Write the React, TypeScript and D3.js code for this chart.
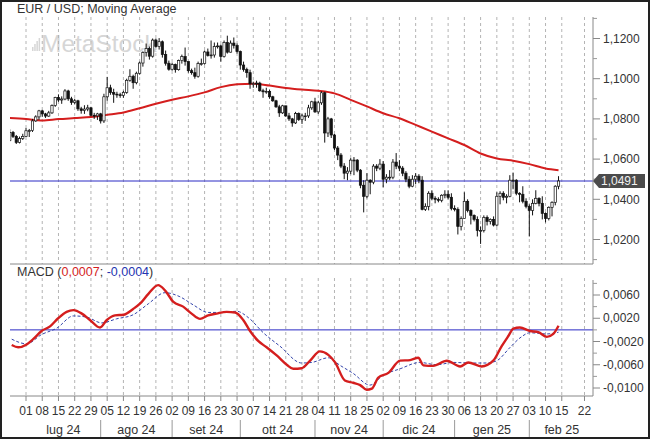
import * as d3 from "d3";

// trading-day index: 0 = Mon 01 Jul 2024, one step per weekday
const firstDay = -5; // Mon 24 Jun 2024
const firstOpen = 1.0692;

const closes = [
  1.0733, 1.0713, 1.0683, 1.0702, 1.0713,
  1.0741, 1.0742, 1.079, 1.081, 1.084,
  1.0825, 1.0814, 1.083, 1.0867, 1.0907,
  1.0894, 1.0899, 1.0939, 1.09, 1.0882,
  1.089, 1.085, 1.0842, 1.0849, 1.0855,
  1.0818, 1.0815, 1.0825, 1.079, 1.091,
  1.0955, 1.0931, 1.0923, 1.092, 1.0917,
  1.0932, 1.0992, 1.1012, 1.098, 1.1027,
  1.1078, 1.113, 1.115, 1.1112, 1.1192,
  1.116, 1.1184, 1.112, 1.1077, 1.1047,
  1.107, 1.1045, 1.109, 1.111, 1.1085,
  1.104, 1.103, 1.1012, 1.1075, 1.1075,
  1.1133, 1.1115, 1.1118, 1.116, 1.1163,
  1.111, 1.118, 1.1132, 1.1177, 1.1165,
  1.1135, 1.1068, 1.1046, 1.103, 1.0975,
  1.0975, 1.0978, 1.094, 1.0935, 1.0937,
  1.091, 1.089, 1.086, 1.083, 1.0865,
  1.0815, 1.08, 1.078, 1.0827, 1.0797,
  1.0815, 1.0815, 1.0855, 1.0885, 1.0835,
  1.088, 1.093, 1.073, 1.08, 1.072,
  1.0655, 1.062, 1.0565, 1.053, 1.054,
  1.0595, 1.0595, 1.0545, 1.047, 1.0415,
  1.0495, 1.0485, 1.0565, 1.0555, 1.0575,
  1.05, 1.051, 1.051, 1.0585, 1.0565,
  1.0555, 1.053, 1.05, 1.0465, 1.05,
  1.0515, 1.0495, 1.035, 1.0365, 1.043,
  1.0405, 1.04, 1.0395, 1.042, 1.0425,
  1.041, 1.0355, 1.035, 1.0265, 1.0305,
  1.039, 1.0345, 1.032, 1.03, 1.0245,
  1.0245, 1.031, 1.029, 1.03, 1.0272,
  1.0415, 1.043, 1.041, 1.0415, 1.0495,
  1.0495, 1.043, 1.0425, 1.039, 1.0365,
  1.0345, 1.038, 1.0405, 1.038, 1.033,
  1.0305, 1.036, 1.0385, 1.0465, 1.0491,
];

const highs = [
  1.0748, 1.074, 1.072, 1.0712, 1.0726,
  1.0755, 1.075, 1.08, 1.0818, 1.0845,
  1.0845, 1.083, 1.084, 1.0872, 1.091,
  1.0922, 1.0912, 1.0948, 1.0945, 1.091,
  1.09, 1.0895, 1.086, 1.0868, 1.087,
  1.086, 1.083, 1.083, 1.083, 1.0925,
  1.1009, 1.097, 1.095, 1.0935, 1.093,
  1.094, 1.1, 1.1047, 1.102, 1.1035,
  1.1085, 1.1136, 1.1175, 1.116, 1.12,
  1.12, 1.1202, 1.119, 1.114, 1.109,
  1.108, 1.1075, 1.1095, 1.112, 1.1155,
  1.1085, 1.105, 1.1055, 1.1085, 1.11,
  1.114, 1.115, 1.119, 1.118, 1.118,
  1.117, 1.119, 1.1214, 1.119, 1.1205,
  1.1175, 1.114, 1.1085, 1.1055, 1.1045,
  1.0985, 1.099, 1.0985, 1.095, 1.0955,
  1.0945, 1.0915, 1.0895, 1.087, 1.087,
  1.0865, 1.083, 1.0805, 1.0835, 1.0832,
  1.0825, 1.083, 1.087, 1.089, 1.0905,
  1.089, 1.0937, 1.0935, 1.081, 1.0805,
  1.0725, 1.0665, 1.063, 1.058, 1.056,
  1.0605, 1.061, 1.06, 1.055, 1.0495,
  1.053, 1.05, 1.0575, 1.0575, 1.06,
  1.059, 1.0525, 1.0545, 1.06, 1.063,
  1.0595, 1.0565, 1.054, 1.0515, 1.052,
  1.053, 1.0525, 1.0515, 1.038, 1.044,
  1.0445, 1.0415, 1.041, 1.0425, 1.0445,
  1.0445, 1.043, 1.037, 1.036, 1.0315,
  1.0435, 1.04, 1.035, 1.0325, 1.0315,
  1.0265, 1.032, 1.032, 1.0305, 1.0315,
  1.0435, 1.044, 1.044, 1.0425, 1.052,
  1.0533, 1.05, 1.0435, 1.0465, 1.0405,
  1.0375, 1.04, 1.0445, 1.041, 1.0415,
  1.0335, 1.0365, 1.039, 1.047, 1.0515,
];

const lows = [
  1.0688, 1.0705, 1.0675, 1.0678, 1.0695,
  1.071, 1.071, 1.0735, 1.0785, 1.0795,
  1.081, 1.0805, 1.081, 1.0825, 1.086,
  1.0885, 1.0875, 1.0893, 1.089, 1.087,
  1.0872, 1.084, 1.0826, 1.0825, 1.0838,
  1.0813, 1.08, 1.0795, 1.0777, 1.078,
  1.089, 1.092, 1.088, 1.0905, 1.0905,
  1.0905, 1.0925, 1.0985, 1.095, 1.0972,
  1.102, 1.106, 1.111, 1.1095, 1.1105,
  1.1155, 1.1145, 1.1105, 1.1065, 1.104,
  1.104, 1.103, 1.104, 1.1075, 1.1065,
  1.103, 1.102, 1.1, 1.1005, 1.1065,
  1.107, 1.111, 1.11, 1.1105, 1.115,
  1.1085, 1.1105, 1.1125, 1.113, 1.115,
  1.1125, 1.1045, 1.1035, 1.1005, 1.095,
  1.0955, 1.0955, 1.0935, 1.0905, 1.0925,
  1.09, 1.0885, 1.0855, 1.081, 1.0825,
  1.081, 1.079, 1.0761, 1.0775, 1.079,
  1.0775, 1.079, 1.0805, 1.0845, 1.083,
  1.0825, 1.087, 1.0682, 1.071, 1.0705,
  1.0645, 1.0595, 1.0555, 1.05, 1.0495,
  1.0525, 1.052, 1.0535, 1.0455, 1.0335,
  1.0405, 1.0425, 1.0475, 1.054, 1.0545,
  1.046, 1.048, 1.0495, 1.05, 1.055,
  1.054, 1.0515, 1.0485, 1.0455, 1.046,
  1.0475, 1.048, 1.0345, 1.0342, 1.0345,
  1.0395, 1.038, 1.0385, 1.0385, 1.0405,
  1.04, 1.0345, 1.034, 1.0225, 1.0245,
  1.0305, 1.0335, 1.0275, 1.029, 1.0215,
  1.0178, 1.0235, 1.027, 1.0275, 1.0265,
  1.0265, 1.0375, 1.0395, 1.038, 1.041,
  1.045, 1.042, 1.0385, 1.038, 1.0355,
  1.0215, 1.032, 1.0375, 1.0365, 1.03,
  1.0285, 1.0295, 1.0315, 1.037, 1.045,
];

const maDays = [-5, 0, 5, 10, 15, 20, 25, 30, 35, 40, 45, 50, 55, 60, 65, 70, 75, 80, 85, 90, 95, 100, 105, 110, 115, 120, 125, 130, 135, 140, 145, 150, 155, 160, 164];
const maValues = [
  1.0804, 1.0799, 1.0792, 1.0799, 1.0804, 1.0809, 1.082, 1.0832, 1.0853, 1.0875,
  1.0895, 1.0912, 1.0932, 1.0958, 1.0972, 1.0975, 1.0966, 1.0954, 1.0946, 1.094,
  1.0927, 1.0895, 1.0862, 1.0828, 1.0803, 1.077, 1.0737, 1.0703, 1.067, 1.0628,
  1.0603, 1.0592, 1.0575, 1.0553, 1.0545,
];

const macdDays = [
  -4.4, -2.4, 0.2, 2.2, 4.8, 7.4, 9.9, 12.5, 14.6, 17.2, 19.7, 22.8, 24.9, 27.4, 30,
  33, 35.1, 37.7, 40.7, 42.8, 45.4, 48.4, 51, 53.6, 56.1, 58.7, 61.8, 64.4, 66.9, 69,
  71.5, 74.1, 77.2, 80.3, 82.3, 84.9, 87.5, 90.5, 93.1, 95.2, 98.2, 100.8, 102.9, 104.9,
  106.5, 108.5, 111.6, 115.2, 118.3, 120.8, 122.4, 125.4, 129.6, 133.7, 136.2, 140.3,
  143.9, 146.5, 148.5, 150.1, 152.1, 155.2, 157.8, 160.4, 162.4, 164,
];
const macdValues = [
  -0.0026, -0.003, -0.0025, -0.0016, -0.0002, 0.0006, 0.002, 0.0031, 0.0034, 0.0028,
  0.0017, 0.0004, 0.0017, 0.0025, 0.0026, 0.0036, 0.0045, 0.0062, 0.0077, 0.0068,
  0.0048, 0.004, 0.0028, 0.0019, 0.0025, 0.0028, 0.0031, 0.003, 0.0017, -0.0002,
  -0.0019, -0.003, -0.0044, -0.006, -0.0067, -0.0066, -0.0053, -0.0037, -0.0043, -0.0056,
  -0.0087, -0.0091, -0.0095, -0.0103, -0.0101, -0.0082, -0.0074, -0.0053, -0.0052, -0.0048,
  -0.0061, -0.0062, -0.0053, -0.0063, -0.0056, -0.0063, -0.0053, -0.0028, -0.0011, 0.0002,
  0.0004, -0.0002, -0.0004, -0.0012, -0.0007, 0.0007,
];

const signalDays = [
  -4.4, 0.2, 4.8, 9.5, 14.6, 18.7, 23.3, 27.9, 33, 37.7, 42.8, 47.4, 51.5, 56.1, 60.3,
  64.9, 68.5, 73.1, 78.2, 84.9, 88, 93.1, 96.7, 100.8, 105.9, 110, 115.2, 121.3, 126.5,
  131.6, 136.7, 141.9, 145, 149.1, 152.1, 155.2, 160.4, 164,
];
const signalValues = [
  -0.0016, -0.0024, -0.0008, 0.0003, 0.0024, 0.0022, 0.0012, 0.0019, 0.0026, 0.0045,
  0.0064, 0.0057, 0.0043, 0.003, 0.003, 0.0032, 0.0021, -0.0005, -0.0028, -0.0057,
  -0.0056, -0.0048, -0.0061, -0.0075, -0.0095, -0.0078, -0.0067, -0.0056, -0.006,
  -0.0056, -0.0057, -0.0057, -0.0053, -0.003, -0.0014, -0.0005, -0.0007, -0.0004,
];

const lastPrice = 1.0491;
const macdLast = "0,0007";
const signalLast = "-0,0004";

const priceTicks = [1.12, 1.1, 1.08, 1.06, 1.04, 1.02];
const priceMinor = [1.13, 1.11, 1.09, 1.07, 1.05, 1.03, 1.01];
const macdTicks = [0.006, 0.002, -0.002, -0.006, -0.01];
const macdMinor = [0.008, 0.004, 0, -0.004, -0.008];

const weekLabels = [
  "01", "08", "15", "22", "29", "05", "12", "19", "26", "02", "09", "16", "23", "30",
  "07", "14", "21", "28", "04", "11", "18", "25", "02", "09", "16", "23", "30",
  "06", "13", "20", "27", "03", "10", "15", "22",
];
const weekDays = [
  0, 5, 10, 15, 20, 25, 30, 35, 40, 45, 50, 55, 60, 65, 70, 75, 80, 85, 90, 95, 100,
  105, 110, 115, 120, 125, 130, 135, 140, 145, 150, 155, 160, 165, 172,
];
const months = ["lug 24", "ago 24", "set 24", "ott 24", "nov 24", "dic 24", "gen 25", "feb 25"];
const monthStartDays = [0, 23, 45, 66, 89, 110, 132, 155, 175];

const FONT = "'Liberation Sans', Arial, sans-serif";
const fmt = (v: number) => v.toFixed(4).replace(".", ",");

export default function App() {
  const width = 650;
  const height = 439;
  const left = 10;
  const right = 593;
  const priceTop = 17;
  const priceBottom = 264;
  const macdTop = 268;
  const macdBottom = 396;

  const x = d3.scaleLinear().domain([0, 155]).range([26, 529.3]);
  const y = d3.scaleLinear().domain([1.02, 1.12]).range([239.5, 38.5]);
  const ym = d3.scaleLinear().domain([-0.01, 0.006]).range([388, 295]);
  const bw = 2.3;

  const candles = closes.map((c, i) => {
    const o = i === 0 ? firstOpen : closes[i - 1];
    return {
      day: firstDay + i,
      o,
      c,
      h: Math.max(highs[i], o, c),
      l: Math.min(lows[i], o, c),
    };
  });

  const maLine = d3
    .line<number>()
    .x((d) => x(d))
    .y((_, i) => y(maValues[i]))
    .curve(d3.curveMonotoneX)(maDays);
  const macdLine = d3
    .line<number>()
    .x((d) => x(d))
    .y((_, i) => ym(macdValues[i]))
    .curve(d3.curveMonotoneX)(macdDays);
  const signalLine = d3
    .line<number>()
    .x((d) => x(d))
    .y((_, i) => ym(signalValues[i]))
    .curve(d3.curveMonotoneX)(signalDays);

  const yLast = y(lastPrice);

  return (
    <svg
      width={width}
      height={height}
      style={{ position: "absolute", left: 0, top: 0, background: "#fff" }}
      fontFamily={FONT}
    >
      <defs>
        <clipPath id="priceClip">
          <rect x={left} y={priceTop} width={right - left} height={priceBottom - priceTop} />
        </clipPath>
      </defs>

      {/* watermark */}
      <g fill="#d6d6d6">
        {[0, 1, 2, 3].map((k) => (
          <rect key={k} x={32 + k * 2.2} y={51 - (4 + k * 3)} width={1.5} height={4 + k * 3} />
        ))}
        <text x={41} y={52} fontSize={24.5} fill="#d6d6d6">
          MetaStock
        </text>
      </g>

      <text x={17} y={13} fontSize={12.5} fill="#333">
        EUR / USD; Moving Average
      </text>

      {/* vertical week gridlines */}
      <g stroke="#b4b4b4" strokeDasharray="3,3" strokeWidth={1}>
        {weekDays.map((d, i) => (
          <g key={i}>
            <line x1={x(d)} x2={x(d)} y1={priceTop} y2={priceBottom} />
            <line x1={x(d)} x2={x(d)} y1={macdTop + 10} y2={macdBottom} />
          </g>
        ))}
      </g>

      {/* price panel */}
      <g clipPath="url(#priceClip)">
        <path d={maLine ?? ""} fill="none" stroke="#d41e1e" strokeWidth={2} />
        <line x1={left} x2={right} y1={yLast} y2={yLast} stroke="#2a2ac4" strokeWidth={1} />
        {candles.map((k) => {
          const up = k.c >= k.o;
          const top = y(Math.max(k.o, k.c));
          const bot = y(Math.min(k.o, k.c));
          return (
            <g key={k.day}>
              <line x1={x(k.day)} x2={x(k.day)} y1={y(k.h)} y2={y(k.l)} stroke="#111" strokeWidth={1} />
              <rect
                x={x(k.day) - bw / 2}
                y={top}
                width={bw}
                height={Math.max(bot - top, 0.8)}
                fill={up ? "#fff" : "#111"}
                stroke="#111"
                strokeWidth={0.7}
              />
            </g>
          );
        })}
      </g>

      {/* price axis */}
      <line x1={right} x2={right} y1={priceTop} y2={priceBottom} stroke="#888" />
      <line x1={left} x2={right} y1={priceBottom} y2={priceBottom} stroke="#888" />
      {priceMinor.map((v) =>
        y(v) > priceTop && y(v) < priceBottom ? (
          <line key={v} x1={right} x2={right + 4} y1={y(v)} y2={y(v)} stroke="#999" />
        ) : null,
      )}
      {priceTicks.map((v) => (
        <g key={v}>
          <line x1={right} x2={right + 7} y1={y(v)} y2={y(v)} stroke="#888" />
          <text x={603} y={y(v)} dy="0.35em" fontSize={12} fill="#333">
            {fmt(v)}
          </text>
        </g>
      ))}
      <path
        d={`M${right},${yLast} L${right + 6},${yLast - 7} H645 V${yLast + 7} H${right + 6} Z`}
        fill="#4b4b4b"
      />
      <text x={601} y={yLast} dy="0.35em" fontSize={12} fill="#f2f2f2">
        {fmt(lastPrice)}
      </text>

      {/* MACD panel */}
      <text x={17} y={276} fontSize={12.5} fill="#333">
        MACD (<tspan fill="#d41e1e">{macdLast}</tspan>; <tspan fill="#2435b0">{signalLast}</tspan>)
      </text>
      <line x1={left} x2={right} y1={ym(0)} y2={ym(0)} stroke="#2a2ac4" strokeWidth={1} />
      <path d={signalLine ?? ""} fill="none" stroke="#3344aa" strokeWidth={1} strokeDasharray="3,2" />
      <path d={macdLine ?? ""} fill="none" stroke="#d41e1e" strokeWidth={2.4} />

      <line x1={right} x2={right} y1={280} y2={macdBottom} stroke="#888" />
      <line x1={left} x2={right} y1={macdBottom} y2={macdBottom} stroke="#888" />
      {macdMinor.map((v) => (
        <line key={v} x1={right} x2={right + 4} y1={ym(v)} y2={ym(v)} stroke="#999" />
      ))}
      {macdTicks.map((v) => (
        <g key={v}>
          <line x1={right} x2={right + 7} y1={ym(v)} y2={ym(v)} stroke="#888" />
          <text x={603} y={ym(v)} dy="0.35em" fontSize={12} fill="#333">
            {fmt(v)}
          </text>
        </g>
      ))}

      {/* time axis */}
      {weekDays.map((d, i) => (
        <g key={i}>
          <line x1={x(d)} x2={x(d)} y1={macdBottom} y2={macdBottom + 5} stroke="#888" />
          <text x={x(d)} y={411} dy="0.35em" fontSize={12} fill="#333" textAnchor="middle">
            {weekLabels[i]}
          </text>
        </g>
      ))}
      {monthStartDays.slice(1, -1).map((d) => (
        <line key={d} x1={x(d)} x2={x(d)} y1={420} y2={height} stroke="#999" />
      ))}
      {months.map((m, i) => (
        <text
          key={m}
          x={(x(monthStartDays[i]) + x(monthStartDays[i + 1])) / 2}
          y={430}
          dy="0.35em"
          fontSize={12.5}
          fill="#333"
          textAnchor="middle"
        >
          {m}
        </text>
      ))}

      <rect x={1} y={1} width={width - 2} height={height - 2} fill="none" stroke="#222" strokeWidth={2} />
    </svg>
  );
}
